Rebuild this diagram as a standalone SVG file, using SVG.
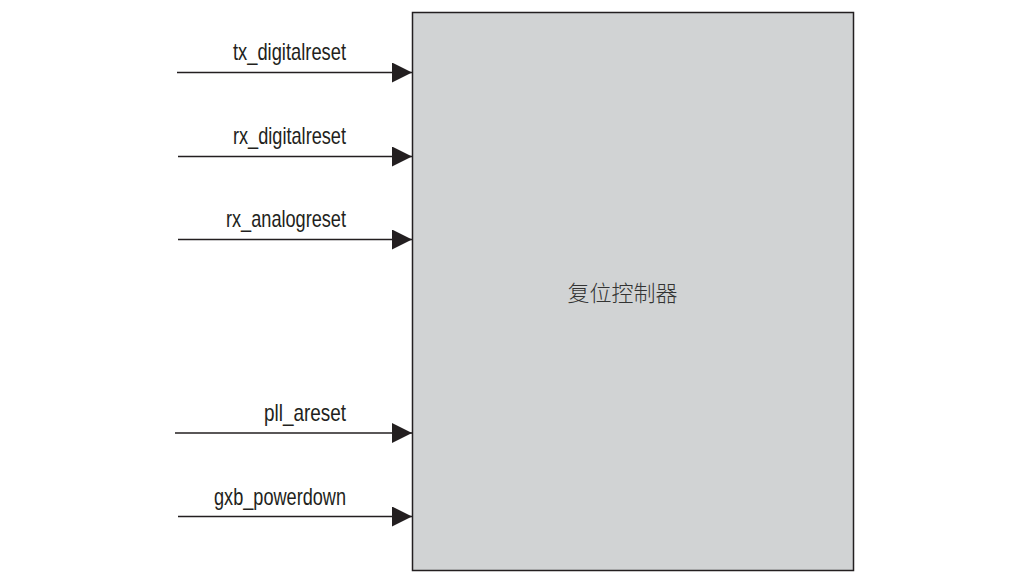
<svg xmlns="http://www.w3.org/2000/svg" width="1016" height="584" viewBox="0 0 1016 584">
  <style>
    .sig { fill: none; stroke: #231f20; stroke-width: 1.4; }
    .lbl { font-family: "Liberation Sans", Arial, sans-serif; font-size: 24px; fill: #231f20; text-anchor: end; }
    .box { fill: #d1d3d4; stroke: #231f20; stroke-width: 1.5; }
    .title { font-family: "Noto Sans CJK SC", sans-serif; font-size: 22px; font-weight: 300; fill: #333333; text-anchor: middle; }
  </style>
  <defs>
    <marker id="arrow" markerUnits="userSpaceOnUse" markerWidth="22" markerHeight="22" refX="20" refY="10" orient="auto">
      <path d="M0,0 L20,10 L0,20 Z" fill="#231f20"/>
    </marker>
  </defs>

  <!-- reset controller block -->
  <g id="reset-controller">
    <rect class="box" x="412.5" y="12.5" width="441" height="558"/>
    <text class="title" x="622.5" y="301">复位控制器</text>
  </g>

  <!-- input signals -->
  <g id="connectors">
    <line class="sig" x1="177" y1="72.5" x2="412" y2="72.5" marker-end="url(#arrow)"/>
    <line class="sig" x1="178" y1="156.5" x2="412" y2="156.5" marker-end="url(#arrow)"/>
    <line class="sig" x1="178" y1="239.5" x2="412" y2="239.5" marker-end="url(#arrow)"/>
    <line class="sig" x1="175" y1="433" x2="412" y2="433" marker-end="url(#arrow)"/>
    <line class="sig" x1="178" y1="516.5" x2="412" y2="516.5" marker-end="url(#arrow)"/>
  </g>

  <g id="tx_digitalreset">
    <text class="lbl" x="346" y="59.5" textLength="113" lengthAdjust="spacingAndGlyphs">tx_digitalreset</text>
  </g>
  <g id="rx_digitalreset">
    <text class="lbl" x="346" y="143.5" textLength="113" lengthAdjust="spacingAndGlyphs">rx_digitalreset</text>
  </g>
  <g id="rx_analogreset">
    <text class="lbl" x="346" y="226.5" textLength="120" lengthAdjust="spacingAndGlyphs">rx_analogreset</text>
  </g>
  <g id="pll_areset">
    <text class="lbl" x="346" y="421" textLength="82" lengthAdjust="spacingAndGlyphs">pll_areset</text>
  </g>
  <g id="gxb_powerdown">
    <text class="lbl" x="346" y="505" textLength="132" lengthAdjust="spacingAndGlyphs">gxb_powerdown</text>
  </g>
</svg>
